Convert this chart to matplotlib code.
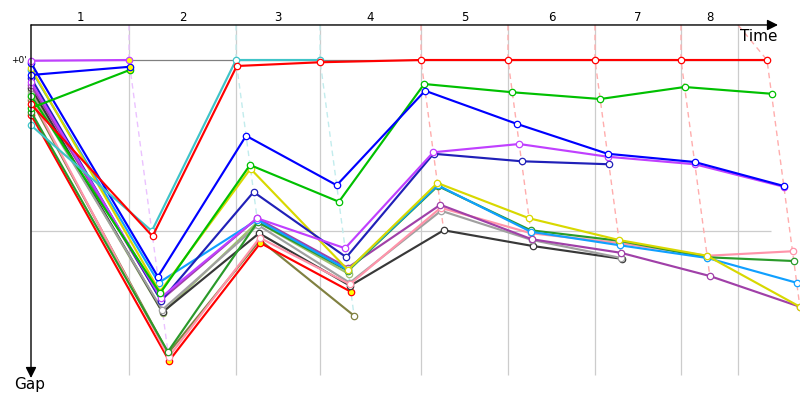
import matplotlib
matplotlib.use('Agg')
import matplotlib.pyplot as plt
import numpy as np
from matplotlib.colors import to_rgb

# ---- data ----
# leader crossing time (s) at the end of each lap (index 0 = start)
lap_times = [0, 98, 205, 289, 390, 477, 564, 650, 736]
# lap marker grid lines (s)
lap_marks = [98, 205, 289, 390, 477, 564, 650, 707]
lap_labels = ['1', '2', '3', '4', '5', '6', '7', '8']

# gap to leader (s) per lap, index 0 = start; None = no longer running
red_a     = [5.9, 23.5, 0.8, 0.3, 0, 0, 0, 0, 0]
cyan      = [8.7, 22.8, 0, 0, None, None, None, None, None]
violet_a  = [0.1, 0, None, None, None, None, None, None, None]
blue_a    = [2.0, 0.9, None, None, None, None, None, None, None]
green_a   = [6.4, 1.3, None, None, None, None, None, None, None]
blue_b    = [0.4, 28.9, 10.1, 16.7, 4.1, 8.5, 12.5, 13.6, 16.8]
green_b   = [4.8, 31.1, 14.0, 18.9, 3.2, 4.3, 5.2, 3.6, 4.5]
violet_b  = [2.9, 31.7, 21.1, 25.1, 12.3, 11.2, 12.9, 13.9, 16.9]
navy      = [2.4, 32.1, 17.6, 26.3, 12.5, 13.5, 13.9, None, None]
yellow    = [1.1, 30.9, 14.5, 28.0, 16.4, 21.1, 24.0, 26.1, 32.9]
skyblue   = [1.3, 29.7, 21.3, 28.0, 16.7, 22.9, 24.7, 26.4, 29.7]
darkgreen = [6.9, 38.9, 21.6, 28.1, 16.8, 22.7, 24.1, 26.3, 26.8]
pink      = [4.9, 39.6, 23.7, 29.9, 19.7, 23.1, 24.4, 26.1, 25.5]
purple    = [3.3, 32.0, 21.1, 27.7, 19.3, 23.9, 25.7, 28.8, 32.9]
gray      = [4.5, 33.3, 22.0, 29.7, 20.1, 24.0, 26.4, None, None]
black     = [3.7, 33.6, 23.1, 30.1, 22.7, 24.8, 26.5, None, None]
red_b     = [7.3, 40.1, 24.4, 30.9, None, None, None, None, None]
olive     = [5.3, 39.1, 24.0, 34.1, None, None, None, None, None]
lightgrn  = [4.1, 33.7, 21.6, 28.5, None, None, None, None, None]

# laps at which the marker is filled yellow
yellow_fill = {'violet_a': [1], 'blue_a': [1], 'green_a': [1], 'red_b': [1, 2, 3]}

drivers = [
    ('olive', olive, '#808040'),
    ('lightgrn', lightgrn, '#a0c070'),
    ('red_b', red_b, '#ff0000'),
    ('black', black, '#383838'),
    ('gray', gray, '#a0a0a0'),
    ('pink', pink, '#ff94aa'),
    ('purple', purple, '#a040a8'),
    ('darkgreen', darkgreen, '#2a9a2a'),
    ('skyblue', skyblue, '#10a0ff'),
    ('yellow', yellow, '#d8d800'),
    ('navy', navy, '#2020b8'),
    ('violet_b', violet_b, '#c040ff'),
    ('green_b', green_b, '#00c000'),
    ('blue_b', blue_b, '#0000ff'),
    ('green_a', green_a, '#00c000'),
    ('blue_a', blue_a, '#0000ff'),
    ('violet_a', violet_a, '#c040ff'),
    ('cyan', cyan, '#40c4c8'),
    ('red_a', red_a, '#ff0000'),
]

# ---- figure ----
fig = plt.figure(figsize=(8, 4), dpi=100)
ax = fig.add_axes([0, 0, 1, 1])
ax.set_xlim(-31, 769)
ax.set_ylim(45.33, -8)
ax.axis('off')

top = -4.67
bottom = 42.0

# grid
ax.vlines(lap_marks, top, bottom, color='#cccccc', lw=0.9, zorder=1)
ax.hlines(0, 0, 736, color='#808080', lw=0.9, zorder=1)
ax.hlines(22.8, 0, 740, color='#cccccc', lw=0.9, zorder=1)

def lighten(c, f=0.6):
    r = np.array(to_rgb(c))
    return tuple(r + (1 - r) * f)

# lap (dashed) lines through the leader and the rest of the field
for k in range(1, len(lap_times)):
    present = [(d[1][k], d[2]) for d in drivers if d[1][k] is not None]
    gmin, lead_col = min(present, key=lambda t: t[0])
    gmax = max(p[0] for p in present)
    ax.plot([lap_marks[k - 1], lap_times[k], lap_times[k] + gmax],
            [top, gmin, gmax], color=lighten(lead_col, 0.68), lw=1.0,
            dashes=(4, 3), zorder=1.5)

# drivers
for i, (name, gaps, col) in enumerate(drivers):
    xs, ys = [], []
    for k, g in enumerate(gaps):
        if g is None:
            continue
        xs.append(0 if k == 0 else lap_times[k] + g)
        ys.append(g)
    z = 2 + i * 0.01
    ax.plot(xs, ys, color=col, lw=1.55, zorder=z, solid_joinstyle='miter')
    yl = yellow_fill.get(name, [])
    fcs = ['#ffff00' if k in yl else 'white' for k in range(len(xs))]
    for x, y, fc in zip(xs, ys, fcs):
        ax.plot(x, y, 'o', ms=4.6, mfc=fc, mec=col, mew=0.9, zorder=z + 0.005)

# axes arrows
ax.annotate('', xy=(747, top), xytext=(0, top),
            arrowprops=dict(arrowstyle='-|>', color='black', lw=1.0,
                            mutation_scale=16, shrinkA=0, shrinkB=0),
            zorder=5)
ax.annotate('', xy=(0, 42.4), xytext=(0, top),
            arrowprops=dict(arrowstyle='-|>', color='black', lw=1.0,
                            mutation_scale=16, shrinkA=0, shrinkB=0),
            zorder=5)

# labels
bounds = [0] + lap_marks
for i, lab in enumerate(lap_labels):
    ax.text((bounds[i] + bounds[i + 1]) / 2, -5.7, lab, ha='center',
            va='center', fontsize=8.5, color='black')
ax.text(709, -3.2, 'Time', ha='left', va='center', fontsize=11)
ax.text(-1, 43.3, 'Gap', ha='center', va='center', fontsize=11)
ax.text(-4, 0, "+0'", ha='right', va='center', fontsize=6.5)

fig.savefig('out.png', dpi=100)
